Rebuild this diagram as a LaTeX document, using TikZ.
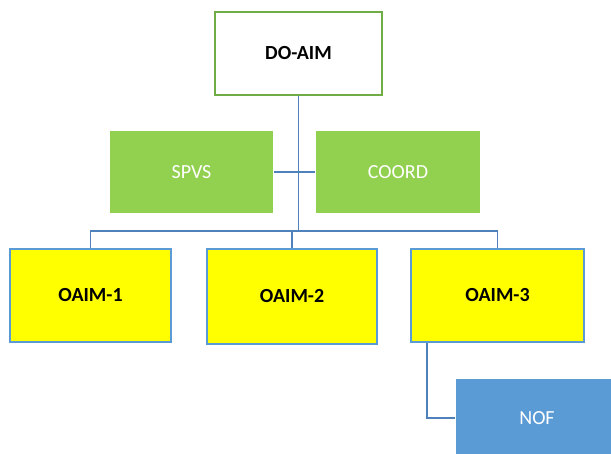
\documentclass[tikz,border=0pt]{standalone}
\usepackage{fontspec}
\setmainfont{Carlito}
\usetikzlibrary{calc}
\definecolor{lgreen}{HTML}{92D050}
\definecolor{dgreen}{HTML}{70AD47}
\definecolor{lblue}{HTML}{5B9BD5}
\definecolor{cblue}{HTML}{4F81BD}
\definecolor{yel}{HTML}{FFFF00}
\tikzset{
  box/.style={draw, line width=1.6pt, inner sep=0pt, align=center, font=\fontsize{20}{24}\selectfont},
  topbox/.style={box, draw=dgreen, fill=white, font=\fontsize{20}{24}\selectfont\bfseries},
  greenbox/.style={box, draw=none, fill=lgreen, text=white},
  yelbox/.style={box, draw=lblue, fill=yel, font=\fontsize{20}{24}\selectfont\bfseries},
  bluebox/.style={box, draw=none, fill=lblue, text=white},
  conn/.style={draw=cblue, line width=1.5pt}
}
\begin{document}
\begin{tikzpicture}[x=1pt,y=-1pt]
\useasboundingbox (0,0) rectangle (611,454);
\clip (0,0) rectangle (611,454);
\node[topbox, minimum width=167pt, minimum height=83pt] (do) at (298.5,53.5) {DO-AIM};
\node[greenbox, minimum width=163pt, minimum height=82pt] (spvs) at (191.5,172) {SPVS};
\node[greenbox, minimum width=164pt, minimum height=82pt] (coord) at (398,172) {COORD};
\node[yelbox, minimum width=161pt, minimum height=93pt] (o1) at (90.5,295.5) {OAIM-1};
\node[yelbox, minimum width=170pt, minimum height=95pt] (o2) at (292,296.5) {OAIM-2};
\node[yelbox, minimum width=173pt, minimum height=93pt] (o3) at (497.5,295.5) {OAIM-3};
\node[bluebox, minimum width=162pt, minimum height=78pt] (nof) at (537,418) {NOF};
\coordinate (bus) at (0,231);
\draw[conn] (do.south) -- (do.south |- bus);
\draw[conn] (spvs.east) -- (coord.west);
\draw[conn] (o1.north) -- (o1.north |- bus) -- (o3.north |- bus) -- (o3.north);
\draw[conn] (o2.north) -- (o2.north |- bus);
\draw[conn] ([xshift=17pt]o3.south west) |- (nof.west);
\end{tikzpicture}
\end{document}
